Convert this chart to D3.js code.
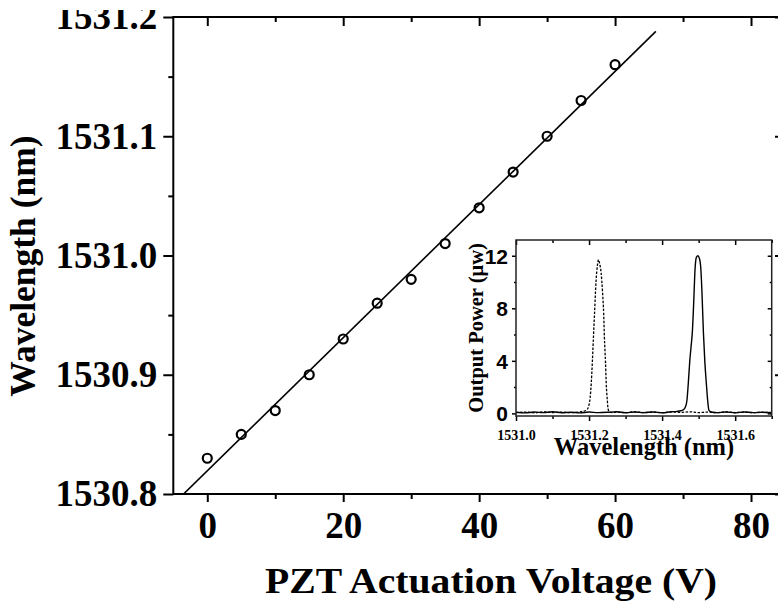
<!DOCTYPE html>
<html><head><meta charset="utf-8">
<script src="https://cdn.jsdelivr.net/npm/d3@7"></script>
<style>body{margin:0;background:#fff;} svg{display:block;}</style>
</head><body>
<svg id="chart" width="778" height="602"></svg>
<script>
// ---- main data ----
const voltage = [0, 5, 10, 15, 20, 25, 30, 35, 40, 45, 50, 55, 60];
const wavelength = [1530.83, 1530.85, 1530.87, 1530.90, 1530.93, 1530.96, 1530.98, 1531.01, 1531.04, 1531.07, 1531.10, 1531.13, 1531.16];
const fitRange = [-5, 66];
const xMajorTicks = [0, 20, 40, 60, 80];
const xMinorTicks = [10, 30, 50, 70];
const yMajorTicks = [1530.8, 1530.9, 1531.0, 1531.1, 1531.2];
const yMinorTicks = [1530.85, 1530.95, 1531.05, 1531.15];
const xTitle = "PZT Actuation Voltage (V)";
const yTitle = "Wavelength (nm)";

// ---- inset data ----
const dashedWl = [1531.000,1531.025,1531.050,1531.075,1531.100,1531.125,1531.150,1531.175,
  1531.190,1531.195,1531.199,1531.203,1531.206,1531.209,1531.212,1531.215,1531.219,1531.223,1531.226,1531.229,1531.233,1531.237,1531.240,1531.242,1531.245,1531.247,1531.250,1531.252,1531.256,1531.265,
  1531.275,1531.300,1531.325,1531.350,1531.375,1531.400,1531.425,1531.450,1531.475,1531.500,1531.525,1531.550,1531.575,1531.600,1531.625,1531.650,1531.675,1531.700];
const dashedPower = [0.05,0.10,0.04,0.12,0.06,0.10,0.05,0.12,
  0.20,0.30,0.55,1.20,2.30,3.90,5.80,7.60,10.0,11.3,11.7,11.4,10.7,9.2,7.6,5.8,3.9,2.3,1.0,0.35,0.12,0.06,
  0.10,0.05,0.12,0.06,0.10,0.05,0.11,0.07,0.12,0.06,0.10,0.05,0.12,0.06,0.10,0.05,0.08,0.06];
const solidWl = [1531.000,1531.025,1531.050,1531.075,1531.100,1531.125,1531.150,1531.175,1531.200,1531.225,1531.250,1531.275,1531.300,1531.325,1531.350,1531.375,1531.400,1531.425,
  1531.440,1531.451,1531.459,1531.464,1531.468,1531.4717,1531.4755,1531.479,1531.483,1531.487,1531.490,1531.494,1531.498,1531.502,1531.5055,1531.509,1531.513,1531.517,1531.521,1531.525,1531.528,1531.535,
  1531.550,1531.575,1531.600,1531.625,1531.650,1531.675,1531.700];
const solidPower = [0.08,0.04,0.10,0.06,0.12,0.05,0.09,0.04,0.10,0.06,0.08,0.12,0.05,0.10,0.06,0.11,0.05,0.12,
  0.15,0.20,0.30,0.50,1.00,2.30,3.90,5.00,6.30,8.80,10.9,11.9,12.0,11.8,11.2,9.3,6.2,3.9,2.3,0.9,0.25,0.10,
  0.06,0.10,0.05,0.11,0.06,0.09,0.05];
const insetXMajor = [1531.0, 1531.2, 1531.4, 1531.6];
const insetXMinor = [1531.1, 1531.3, 1531.5, 1531.7];
const insetYMajor = [0, 4, 8, 12];
const insetYMinor = [2, 6, 10];
const insetXTitle = "Wavelength (nm)";
const insetYTitle = "Output Power (\u03bcw)";

const SERIF = "'Liberation Serif','Times New Roman',serif";
const SANS = "'Liberation Sans',Arial,sans-serif";

const svg = d3.select("#chart");
svg.append("rect").attr("width", 778).attr("height", 602).attr("fill", "#fff");

// ---- main scales ----
const x = d3.scaleLinear().domain([-5, 85]).range([173.3, 785]);
const y = d3.scaleLinear().domain([1530.8, 1531.2]).range([494, 17]);

const defs = svg.append("defs");
defs.append("clipPath").attr("id", "plotClip").append("rect")
  .attr("x", x(-5)).attr("y", y(1531.2)).attr("width", x(85) - x(-5)).attr("height", y(1530.8) - y(1531.2));
defs.append("clipPath").attr("id", "labelClip").append("rect")
  .attr("x", -400).attr("y", 10).attr("width", 1400).attr("height", 600);

function styleAxis(g, sw) {
  g.select(".domain").remove();
  g.selectAll(".tick line").attr("stroke", "#000").attr("stroke-width", sw);
}

// left axis (outward)
const gl = svg.append("g").attr("transform", `translate(${x(-5)},0)`);
gl.call(d3.axisLeft(y).tickValues(yMinorTicks).tickSize(5).tickFormat("")).call(g => styleAxis(g, 2));
const gl2 = svg.append("g").attr("transform", `translate(${x(-5)},0)`).attr("clip-path", "url(#labelClip)");
gl2.call(d3.axisLeft(y).tickValues(yMajorTicks).tickSize(10).tickFormat(d3.format(".1f"))).call(g => styleAxis(g, 2));
gl2.selectAll(".tick text").attr("x", -16).attr("dy", "0.32em")
  .attr("font-family", SERIF).attr("font-weight", "bold").attr("font-size", 37).attr("fill", "#000");

// bottom axis (outward)
const gb = svg.append("g").attr("transform", `translate(0,${y(1530.8)})`);
gb.call(d3.axisBottom(x).tickValues(xMinorTicks).tickSize(5).tickFormat("")).call(g => styleAxis(g, 2));
const gb2 = svg.append("g").attr("transform", `translate(0,${y(1530.8)})`);
gb2.call(d3.axisBottom(x).tickValues(xMajorTicks).tickSize(8).tickFormat(d3.format("d"))).call(g => styleAxis(g, 2));
gb2.selectAll(".tick text").attr("y", 44).attr("dy", 0)
  .attr("font-family", SERIF).attr("font-weight", "bold").attr("font-size", 37).attr("fill", "#000");

// top axis (inward)
svg.append("g").attr("transform", `translate(0,${y(1531.2)})`)
  .call(d3.axisTop(x).tickValues(xMinorTicks).tickSize(-5).tickFormat("")).call(g => styleAxis(g, 2));
svg.append("g").attr("transform", `translate(0,${y(1531.2)})`)
  .call(d3.axisTop(x).tickValues(xMajorTicks).tickSize(-9).tickFormat("")).call(g => styleAxis(g, 2));
// right axis (inward)
svg.append("g").attr("transform", `translate(${x(85)},0)`)
  .call(d3.axisRight(y).tickValues(yMinorTicks).tickSize(-5).tickFormat("")).call(g => styleAxis(g, 2));
svg.append("g").attr("transform", `translate(${x(85)},0)`)
  .call(d3.axisRight(y).tickValues(yMajorTicks).tickSize(-10).tickFormat("")).call(g => styleAxis(g, 2));

// frame
svg.append("rect").attr("x", x(-5)).attr("y", y(1531.2))
  .attr("width", x(85) - x(-5)).attr("height", y(1530.8) - y(1531.2))
  .attr("fill", "none").attr("stroke", "#000").attr("stroke-width", 2);

// linear fit (least squares)
const mx = d3.mean(voltage), my = d3.mean(wavelength);
const slope = d3.sum(voltage, (v, i) => (v - mx) * (wavelength[i] - my)) / d3.sum(voltage, v => (v - mx) ** 2);
const intercept = my - slope * mx;
const fitPts = fitRange.map(v => [v, intercept + slope * v]);
svg.append("path").attr("clip-path", "url(#plotClip)")
  .attr("d", d3.line().x(d => x(d[0])).y(d => y(d[1]))(fitPts))
  .attr("fill", "none").attr("stroke", "#000").attr("stroke-width", 1.6);

// data points
svg.append("g").selectAll("circle").data(voltage).join("circle")
  .attr("cx", d => x(d)).attr("cy", (d, i) => y(wavelength[i])).attr("r", 4.5)
  .attr("fill", "none").attr("stroke", "#000").attr("stroke-width", 2.2);

// axis titles
svg.append("text").attr("x", 491).attr("y", 593).attr("text-anchor", "middle")
  .attr("font-family", SERIF).attr("font-weight", "bold").attr("font-size", 36)
  .attr("textLength", 452).attr("lengthAdjust", "spacingAndGlyphs").text(xTitle);
svg.append("text").attr("transform", "translate(35,266) rotate(-90)").attr("text-anchor", "middle")
  .attr("font-family", SERIF).attr("font-weight", "bold").attr("font-size", 35.5).text(yTitle);

// ---- inset ----
const ix = d3.scaleLinear().domain([1531.0, 1531.7]).range([516, 771.7]);
const iy = d3.scaleLinear().domain([-0.2, 13.2]).range([416, 240]);
const inset = svg.append("g");
inset.append("rect").attr("x", 516).attr("y", 240).attr("width", 771.7 - 516).attr("height", 176).attr("fill", "#fff");

const il = d3.line().x(d => ix(d[0])).y(d => iy(d[1])).curve(d3.curveMonotoneX);
inset.append("path").attr("d", il(solidWl.map((w, i) => [w, solidPower[i]])))
  .attr("fill", "none").attr("stroke", "#000").attr("stroke-width", 1.4);
inset.append("path").attr("d", il(dashedWl.map((w, i) => [w, dashedPower[i]])))
  .attr("fill", "none").attr("stroke", "#000").attr("stroke-width", 1.3).attr("stroke-dasharray", "2.5,1.5");

const ISW = 1.5;
// inset left (outward)
inset.append("g").attr("transform", "translate(516,0)")
  .call(d3.axisLeft(iy).tickValues(insetYMinor).tickSize(2).tickFormat("")).call(g => styleAxis(g, ISW));
const iyl = inset.append("g").attr("transform", "translate(516,0)")
  .call(d3.axisLeft(iy).tickValues(insetYMajor).tickSize(4).tickFormat(d3.format("d"))).call(g => styleAxis(g, ISW));
iyl.selectAll(".tick text").attr("x", -8).attr("dy", "0.36em")
  .attr("font-family", SANS).attr("font-weight", "bold").attr("font-size", 21).attr("fill", "#000");
// inset right (inward)
inset.append("g").attr("transform", "translate(771.7,0)")
  .call(d3.axisRight(iy).tickValues(insetYMinor).tickSize(-2).tickFormat("")).call(g => styleAxis(g, ISW));
inset.append("g").attr("transform", "translate(771.7,0)")
  .call(d3.axisRight(iy).tickValues(insetYMajor).tickSize(-4).tickFormat("")).call(g => styleAxis(g, ISW));
// inset bottom (outward)
inset.append("g").attr("transform", "translate(0,416)")
  .call(d3.axisBottom(ix).tickValues(insetXMinor).tickSize(3).tickFormat("")).call(g => styleAxis(g, ISW));
const ixb = inset.append("g").attr("transform", "translate(0,416)")
  .call(d3.axisBottom(ix).tickValues(insetXMajor).tickSize(5).tickFormat(d3.format(".1f"))).call(g => styleAxis(g, ISW));
ixb.selectAll(".tick text").attr("y", 24).attr("dy", 0)
  .attr("font-family", SERIF).attr("font-weight", "bold").attr("font-size", 14).attr("fill", "#000");
// inset top (inward)
inset.append("g").attr("transform", "translate(0,240)")
  .call(d3.axisTop(ix).tickValues(insetXMinor).tickSize(-3).tickFormat("")).call(g => styleAxis(g, ISW));
inset.append("g").attr("transform", "translate(0,240)")
  .call(d3.axisTop(ix).tickValues(insetXMajor).tickSize(-5).tickFormat("")).call(g => styleAxis(g, ISW));
inset.append("rect").attr("x", 516).attr("y", 240).attr("width", 771.7 - 516).attr("height", 176)
  .attr("fill", "none").attr("stroke", "#222").attr("stroke-width", ISW);

inset.append("text").attr("x", 644).attr("y", 455).attr("text-anchor", "middle")
  .attr("font-family", SERIF).attr("font-weight", "bold").attr("font-size", 24.5).text(insetXTitle);
inset.append("text").attr("transform", "translate(483,328) rotate(-90)").attr("text-anchor", "middle")
  .attr("font-family", SERIF).attr("font-weight", "bold").attr("font-size", 20.5).text(insetYTitle);
</script>
</body></html>
